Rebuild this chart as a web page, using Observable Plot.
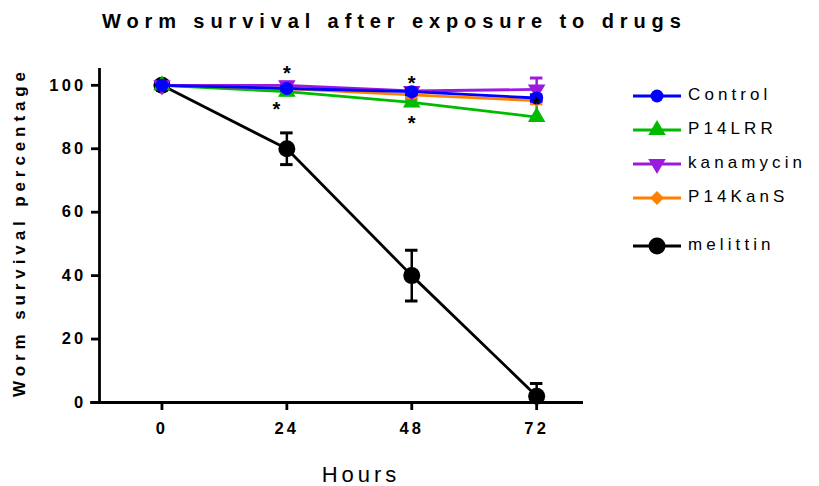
<!DOCTYPE html>
<html><head><meta charset="utf-8">
<script src="https://cdn.jsdelivr.net/npm/d3@7"></script>
<script src="https://cdn.jsdelivr.net/npm/@observablehq/plot@0.6"></script>
<style>
body{margin:0;background:#fff;font-family:"Liberation Sans",Arial,sans-serif;}
#wrap{position:relative;width:819px;height:486px;overflow:hidden;}
#chart{position:absolute;left:0;top:0;}
.title{position:absolute;left:102px;top:10px;white-space:nowrap;font-weight:bold;font-size:20px;letter-spacing:5.9px;}
.ylab{position:absolute;left:20px;top:232px;transform:translate(-50%,-50%) rotate(-90deg);white-space:nowrap;font-weight:bold;font-size:17px;letter-spacing:4.9px;}
.xlab{position:absolute;left:361px;top:475px;transform:translate(-50%,-50%);white-space:nowrap;font-size:22px;letter-spacing:4px;}
.leg{position:absolute;left:633px;}
.leg svg{position:absolute;left:0;top:-12px;}
.leg span{position:absolute;left:55px;top:-11px;font-size:17px;letter-spacing:4.1px;white-space:nowrap;}
</style></head>
<body>
<div id="wrap">
  <div id="chart"></div>
  <div class="title">Worm survival after exposure to drugs</div>
  <div class="ylab">Worm survival percentage</div>
  <div class="xlab">Hours</div>
  <div id="legend"></div>
</div>
<script>
const hours = [0, 24, 48, 72];
const seriesNames = ["Control", "P14LRR", "kanamycin", "P14KanS", "melittin"];
const controlVals = [100, 99, 98, 96];
const controlErrUp = [0, 0.6, 1, 1];
const controlErrDown = [0, 0.6, 1, 1];
const p14lrrVals = [100, 98, 94.6, 90];
const p14lrrErrUp = [0, 1, 1, 6];
const p14lrrErrDown = [0, 1, 1, 0];
const kanamycinVals = [100, 100, 98.2, 98.7];
const kanamycinErrUp = [0, 1, 1, 3.6];
const kanamycinErrDown = [0, 1, 1, 3.6];
const p14kansVals = [100, 99, 97, 95.2];
const p14kansErrUp = [0, 0, 1, 1];
const p14kansErrDown = [0, 0, 1, 1];
const melittinVals = [100, 80, 40, 2];
const melittinErrUp = [0, 5, 8, 4];
const melittinErrDown = [0, 5, 8, 2];
const starHours = [24, 22, 48, 48, 72];
const starVals = [106, 94.5, 102.8, 90, 96];

const colors = {Control:"#0000ff", P14LRR:"#00bb00", kanamycin:"#9c1ae0", P14KanS:"#ff8000", melittin:"#000000"};
const symbols = {Control:"circle", P14LRR:"triangle", kanamycin:"triangle", P14KanS:"diamond2", melittin:"circle"};
const rotates = {Control:0, P14LRR:0, kanamycin:180, P14KanS:0, melittin:0};
const radii = {Control:6.5, P14LRR:6.5, kanamycin:6.5, P14KanS:5.5, melittin:8.5};
const valsBy = {Control:controlVals, P14LRR:p14lrrVals, kanamycin:kanamycinVals, P14KanS:p14kansVals, melittin:melittinVals};
const upBy = {Control:controlErrUp, P14LRR:p14lrrErrUp, kanamycin:kanamycinErrUp, P14KanS:p14kansErrUp, melittin:melittinErrUp};
const downBy = {Control:controlErrDown, P14LRR:p14lrrErrDown, kanamycin:kanamycinErrDown, P14KanS:p14kansErrDown, melittin:melittinErrDown};

const drawOrder = ["melittin", "P14LRR", "P14KanS", "kanamycin", "Control"];
const xDomain = [-12, 81];
const yDomain = [0, 105.3];
const capHalf = 1.2;

const marks = [];
for (const s of drawOrder) {
  const data = hours.map((h, i) => ({h, v: valsBy[s][i], up: upBy[s][i], dn: downBy[s][i]}));
  const ebU = data.filter(d => d.up > 0);
  const ebD = data.filter(d => d.dn > 0);
  marks.push(Plot.ruleX(ebU, {x: "h", y1: "v", y2: d => d.v + d.up, stroke: colors[s], strokeWidth: 2.5}));
  marks.push(Plot.ruleX(ebD, {x: "h", y1: "v", y2: d => d.v - d.dn, stroke: colors[s], strokeWidth: 2.5}));
  marks.push(Plot.ruleY(ebU, {y: d => d.v + d.up, x1: d => d.h - capHalf, x2: d => d.h + capHalf, stroke: colors[s], strokeWidth: 3}));
  marks.push(Plot.ruleY(ebD, {y: d => d.v - d.dn, x1: d => d.h - capHalf, x2: d => d.h + capHalf, stroke: colors[s], strokeWidth: 3}));
  marks.push(Plot.line(data, {x: "h", y: "v", stroke: colors[s], strokeWidth: 2.8}));
  marks.push(Plot.dot(data, {x: "h", y: "v", symbol: symbols[s], rotate: rotates[s], r: radii[s], fill: colors[s], stroke: "none"}));
}
marks.push(Plot.text(starHours.map((h, i) => ({h, v: starVals[i]})), {x: "h", y: "v", text: () => "*", fill: "#000", dy: 7, fontSize: 20, fontWeight: "bold"}));

const plot = Plot.plot({
  width: 819, height: 486,
  marginLeft: 99, marginRight: 236, marginTop: 68, marginBottom: 84,
  style: {fontFamily: '"Liberation Sans", Arial, sans-serif', background: "transparent", overflow: "visible"},
  x: {domain: xDomain},
  y: {domain: yDomain},
  marks: [
    Plot.ruleX([xDomain[0]], {y1: yDomain[0], y2: yDomain[1], stroke: "#000", strokeWidth: 2.8}),
    Plot.ruleY([0], {x1: xDomain[0] - 1.7, x2: xDomain[1], stroke: "#000", strokeWidth: 2.8}),
    Plot.axisX({ticks: hours, tickSize: 8, strokeWidth: 2.8, tickPadding: 12, fill: "#000", label: null, tickFormat: d => String(d)}),
    Plot.axisY({ticks: [0, 20, 40, 60, 80, 100], tickSize: 8, strokeWidth: 2.8, tickPadding: 5, fill: "#000", label: null}),
    ...marks
  ]
});
document.getElementById("chart").append(plot);
d3.select(plot).selectAll("text").each(function() {
  const t = d3.select(this);
  if (t.text() === "*") {
    t.style("font-size", "20px").style("font-weight", "bold");
  } else {
    t.style("font-size", "16.5px").style("font-weight", "bold").style("letter-spacing", "3.2px");
  }
});

// legend
const legendTop = {Control: 96, P14LRR: 130, kanamycin: 164, P14KanS: 198, melittin: 246};
const leg = document.getElementById("legend");
for (const s of seriesNames) {
  const row = document.createElement("div");
  row.className = "leg";
  row.style.top = legendTop[s] + "px";
  const sym = d3.symbol(s === "P14KanS" ? d3.symbolSquare : (s === "P14LRR" || s === "kanamycin") ? d3.symbolTriangle : d3.symbolCircle, Math.PI * radii[s] * radii[s])();
  const rot = s === "P14KanS" ? 45 : rotates[s];
  row.innerHTML = `<svg width="50" height="24"><line x1="0" x2="48" y1="12" y2="12" stroke="${colors[s]}" stroke-width="2.8"/><path d="${sym}" transform="translate(24,12) rotate(${rot})" fill="${colors[s]}"/></svg><span>${s}</span>`;
  leg.append(row);
}
</script>
</body></html>
